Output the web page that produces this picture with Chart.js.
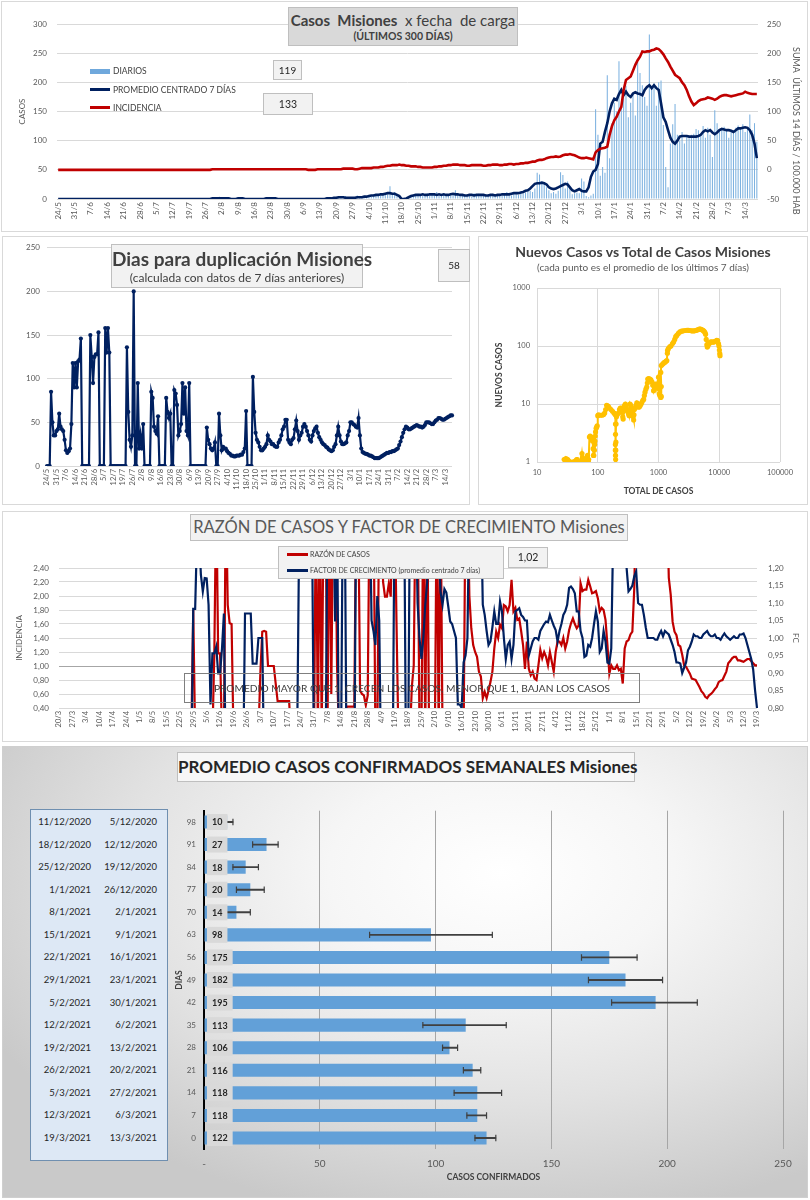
<!DOCTYPE html>
<html lang="es">
<head>
<meta charset="utf-8">
<title>Casos Misiones</title>
<script src="https://cdn.jsdelivr.net/npm/chart.js@4.4.1/dist/chart.umd.min.js"></script>
<style>
  html, body { margin: 0; padding: 0; background: #fff; }
  body { width: 810px; height: 1200px; position: relative; overflow: hidden; font-family: Lato, "Noto Sans", sans-serif; color: #404040; }
  .panel { position: absolute; box-sizing: border-box; border: 1px solid #d9d9d9; }
  canvas { position: absolute; }
  .caja { position: absolute; box-sizing: border-box; background: #f2f2f2; border: 1px solid #bfbfbf; text-align: center; color: #262626; }
  .ley { position: absolute; font-size: 8.5px; line-height: 12px; color: #404040; white-space: nowrap; }
  .raya { position: absolute; width: 21px; height: 3px; }
  .fila { position: absolute; font-size: 9.5px; line-height: 12px; color: #262626; text-align: right; white-space: nowrap; }
</style>
</head>
<body>

<div class="panel" style="left:1px;top:1px;width:807px;height:231px"></div>
<div class="panel" style="left:2px;top:236px;width:468px;height:269px"></div>
<div class="panel" style="left:478px;top:236px;width:330px;height:269px"></div>
<div class="panel" style="left:2px;top:511px;width:806px;height:231px"></div>
<div class="panel" style="left:2px;top:746px;width:806px;height:452px;border-color:#cfcfcf;
  background: radial-gradient(ellipse 72% 78% at 62% 28%, #ffffff 0%, #f6f6f6 30%, #e2e2e2 65%, #c9c9c9 100%);"></div>

<canvas id="g1" width="810" height="232" style="left:0;top:0"></canvas>
<canvas id="g2" width="468" height="269" style="left:2px;top:236px"></canvas>
<canvas id="g3" width="330" height="269" style="left:478px;top:236px"></canvas>
<canvas id="g4" width="806" height="231" style="left:2px;top:511px"></canvas>
<canvas id="g5" width="630" height="400" style="left:170px;top:790px"></canvas>

<!-- panel 1 -->
<div class="caja" style="left:288px;top:7px;width:230px;height:39px;background:#d9d9d9;color:#404040">
  <div style="font-size:15px;line-height:19px;margin-top:3px;white-space:nowrap"><b>Casos&nbsp; Misiones</b>&nbsp; x fecha&nbsp; de carga</div>
  <div style="font-size:10.5px;font-weight:bold;line-height:13px">(ÚLTIMOS 300 DÍAS)</div>
</div>
<div class="raya" style="left:90px;top:68.5px;height:5px;width:20px;background:#6fa8dc"></div>
<div class="ley" style="left:113px;top:65px">DIARIOS</div>
<div class="raya" style="left:90px;top:88px;width:20px;background:#002060"></div>
<div class="ley" style="left:113px;top:83.5px">PROMEDIO CENTRADO 7 DÍAS</div>
<div class="raya" style="left:90px;top:106px;width:20px;background:#c00000"></div>
<div class="ley" style="left:113px;top:101.5px">INCIDENCIA</div>
<div class="caja" style="left:273px;top:60px;width:29px;height:20px;font-size:10px;line-height:18px">119</div>
<div class="caja" style="left:263px;top:93px;width:50px;height:22px;font-size:10.5px;line-height:20px">133</div>
<div style="position:absolute;left:791px;top:47px;width:11px;writing-mode:vertical-rl;font-size:9px;line-height:11px;color:#595959;white-space:nowrap">SUMA&nbsp; ÚLTIMOS 14 DÍAS / 100.000 HAB</div>

<!-- panel 2 -->
<div class="caja" style="left:111px;top:244px;width:252px;height:44px;color:#404040">
  <div style="font-size:19px;font-weight:bold;line-height:22px;margin-top:3px;white-space:nowrap">Dias para duplicación Misiones</div>
  <div style="font-size:12px;line-height:15px;white-space:nowrap">(calculada con datos de 7 días anteriores)</div>
</div>
<div class="caja" style="left:438px;top:249px;width:32px;height:33px;font-size:10px;line-height:31px">58</div>

<!-- panel 3 -->
<div style="position:absolute;left:478px;width:330px;top:243px;text-align:center;font-size:14px;font-weight:bold;color:#404040;white-space:nowrap">Nuevos Casos vs Total de Casos Misiones</div>
<div style="position:absolute;left:478px;width:330px;top:261px;text-align:center;font-size:10px;color:#595959;white-space:nowrap">(cada punto es el promedio de los últimos 7 días)</div>

<!-- panel 4 -->
<div class="caja" style="left:190px;top:514px;width:438px;height:27px;font-size:16.5px;line-height:25px;color:#595959;white-space:nowrap">RAZÓN DE CASOS Y FACTOR DE CRECIMIENTO Misiones</div>
<div class="caja" style="left:278px;top:546px;width:226px;height:33px"></div>
<div class="raya" style="left:287px;top:553px;height:2.5px;background:#c00000"></div>
<div class="ley" style="left:310px;top:549px;font-size:7px;line-height:10px">RAZÓN DE CASOS</div>
<div class="raya" style="left:287px;top:569px;height:2.5px;background:#002060"></div>
<div class="ley" style="left:310px;top:565px;font-size:7px;line-height:10px">FACTOR DE CRECIMIENTO (promedio centrado 7 días)</div>
<div class="caja" style="left:508px;top:547px;width:40px;height:21px;font-size:10.5px;line-height:19px">1,02</div>
<div style="position:absolute;box-sizing:border-box;left:184px;top:673px;width:456px;height:30px;border:1px solid #7f7f7f;text-align:center;font-size:10.2px;line-height:28px;color:#404040;white-space:nowrap">PROMEDIO MAYOR QUE 1, CRECEN LOS CASOS, MENOR QUE 1, BAJAN LOS CASOS</div>

<!-- panel 5 -->
<div class="caja" style="left:177px;top:752px;width:458px;height:30px;background:#f7f7f7;font-size:17px;font-weight:bold;line-height:28px;white-space:nowrap">PROMEDIO CASOS CONFIRMADOS SEMANALES Misiones</div>
<div id="tabla" style="position:absolute;box-sizing:border-box;left:30px;top:809px;width:138px;height:352px;background:#dde8f5;border:1px solid #6f8fb0"></div>

<script>
// ---------- datos ----------
// casos por fecha de carga, desde 24/5/2020 (300 días)
const diarios = [
  0,0,0,0,0,0,0, 0,0,0,1,0,0,0, 0,0,0,0,0,1,0, 0,0,0,0,0,0,0,
  0,1,0,0,0,0,0, 0,0,0,0,1,0,0, 0,0,0,0,0,0,0, 0,0,1,0,0,0,0,
  0,0,0,0,0,0,0, 0,0,1,0,0,2,4, 2,0,0,1,0,0,0, 0,3,0,0,0,1,0,
  0,0,0,0,0,0,1, 3,0,0,0,1,0,0, 0,0,0,1,0,0,0, 0,0,0,0,0,0,0,
  0,0,0,0,0,1,0, 2,4,3,1,5,2,0, 1,0,6,3,2,5,3, 7,4,8,5,9,6,8,
  10,8,22,9,12,6,4, 0,2,1,3,4,6,8, 9,7,5,8,10,6,7, 8,12,6,5,9,7,8,
  6,9,15,7,5,8,6, 5,7,4,10,6,9,5, 8,6,5,7,9,6,6, 9,5,7,12,8,6,
  8,9,7,12,10,11,13, 14,12,18,45,42,30,28, 20,15,10,12,9,14,46, 41,18,30,22,8,10,11,
  10,35,30,5,3,6,9, 154,110,40,55,45,212,70, 130,165,150,236,160,190,194, 140,165,180,143,235,216,195,
  175,160,282,190,198,160,200, 203,127,55,20,95,128,163, 110,100,115,95,108,104,110, 112,120,118,110,125,105,122,
  110,72,152,130,118,120,124, 120,105,115,118,122,126,120, 128,115,120,145,118,130,98
];
const promedio7 = [
  0,0,0,0,0,0,0, 0,0,0,0,0,0,0, 0,0,0,0,0,0,0, 0,0,0,0,0,0,0,
  0,0,0,0,0,0,0, 0,0,0,0,0,0,0, 0,0,0,0,0,0,0, 0,0,0,0,0,0,0,
  0,0,0,0,0,0,0, 0,0,0,1,1,1,1, 1,1,1,1,0,0,0, 1,1,1,0,0,0,0,
  0,0,0,0,0,1,1, 1,1,1,0,0,0,0, 0,0,0,0,0,0,0, 0,0,0,0,0,0,0,
  0,0,0,1,1,1,2, 2,3,3,3,2,2,2, 2,2,3,3,3,4,4, 5,6,6,7,7,8,8,
  9,10,10,9,9,7,5, 0,0,1,3,5,6,7, 7,7,8,7,7,8,8, 8,7,8,7,8,7,7,
  8,9,8,8,7,7,6, 6,7,7,6,7,7,7, 7,6,6,7,7,6,7, 7,8,8,8,8,9,
  10,10,10,11,12,14,15, 18,22,26,27,27,28,27, 25,20,18,17,18,20,22, 24,26,25,20,15,13,15,
  17,14,13,13,20,38,47, 50,60,95,98,115,130,150, 164,172,170,180,187,178,184, 178,175,181,183,181,180,178,
  187,192,195,190,195,190,187, 164,140,132,118,105,98,95, 100,107,108,108,108,107,107, 107,107,108,110,115,118,116,
  118,114,111,114,118,120,119, 118,118,117,115,118,121,121, 122,123,122,118,110,95,70
];
// suma últimos 14 días / 100.000 hab (eje derecho)
const incidencia = [
  0,0,0,0,0,0,0, 0,0,0,0,0,0,0, 0,0,0,0,0,0,0, 0,0,0,0,0,0,0,
  0,0,0,0,0,0,0, 0,0,0,0,0,0,0, 0,0,0,0,0,0,0, 0,0,0,0,0,0,0,
  0,0,0,0,0,0,0, 0,0,0,1,1,1,1, 1,1,1,1,1,1,1, 1,1,1,1,1,1,1,
  1,1,1,1,1,1,1, 1,1,1,1,1,1,1, 1,1,1,1,1,1,1, 1,1,0,0,0,0,1,
  1,1,1,1,1,1,1, 1,1,1,2,2,2,2, 2,1,1,2,3,3,3, 3,3,4,4,4,5,5,
  6,7,7,8,8,8,9, 8,8,7,7,6,6,6, 5,5,4,4,4,4,4, 5,5,6,6,7,7,8,
  8,9,9,9,8,8,8, 7,7,8,8,8,8,8, 7,7,8,8,9,9,9, 8,8,9,9,10,10,
  9,10,10,11,11,12,12, 13,14,14,16,17,17,18, 20,21,22,22,23,22,23, 25,26,26,27,26,25,23,
  21,20,20,21,20,19,18, 30,34,36,37,38,40,60, 75,85,91,100,108,137,154, 157,160,170,180,188,194,203,
  202,203,203,205,206,208,207, 203,198,191,185,177,170,163, 160,157,150,145,137,126,117, 111,114,118,120,121,122,124,
  123,122,120,122,125,127,128, 128,127,126,127,128,129,130, 131,134,132,131,130,130,130
];

// días para duplicación (mismas fechas)
const duplicacion = [
  0,0,0,85,50,35,35,40,42,60,  45,42,40,30,18,15,17,20,48,118,
  90,118,90,120,122,146,0,0,0,0,  0,0,150,125,95,125,128,128,153,0,
  0,0,0,158,130,158,130,0,0,0,  0,0,0,0,0,0,0,0,0,136,
  62,30,22,35,200,0,0,95,20,35,  20,48,0,0,0,0,0,85,78,45,
  40,37,57,0,0,0,0,0,78,62,  55,60,0,0,87,83,70,35,40,48,
  95,60,90,40,35,95,0,0,0,0,  0,0,0,0,0,0,0,0,44,30,
  25,20,18,20,27,0,0,60,35,18,  22,20,20,17,15,14,12,12,11,11,
  12,12,12,13,13,16,20,63,0,0,  0,0,102,62,38,30,27,22,18,18,
  20,22,25,35,30,28,25,25,23,22,  22,27,30,35,42,45,53,53,30,27,
  25,30,32,42,52,40,30,35,38,45,  48,45,40,35,30,28,35,40,43,45,
  38,33,30,27,25,24,22,21,19,18,  17,18,22,25,35,45,35,28,25,25,
  26,27,35,40,50,50,48,47,45,44,  55,35,20,16,15,14,14,13,12,12,
  11,10,9,9,9,9,10,11,12,13,  14,15,15,16,16,17,17,18,19,20,
  24,28,33,38,42,45,44,42,42,43,  44,45,46,47,46,45,45,44,45,47,
  50,50,50,49,48,48,50,52,53,55,  55,54,53,53,54,55,56,57,58,58
];

// nuevos casos (prom. 7 días) vs total de casos
const totalCasos = [
  28,29,30,31,32,33,34,35,36,38, 40,41,43,45,46,47,49,51,53,55,
  56,57,58,60,62,63,65,67,68,69, 70,71,73,75,78,80,82,84,85,86,
  88,89,90,91,92,94,96,98,100,103, 110,118,125,130,135,140,145,150,155,165,
  175,185,192,195,196,196,195,195,196,197, 198,199,200,203,210,220,228,235,242,250,
  258,262,266,270,278,285,292,300,310,318, 325,330,335,340,348,355,365,375,383,390,
  395,400,410,425,440,455,470,485,500,515, 530,550,570,585,600,620,640,655,665,690,
  720,750,780,805,830,860,890,915,940,970, 1000,1020,1040,1030,1050,1090,1110,1110,1090,1110,
  1150,1200,1250,1290,1340,1370,1400,1410,1450,1530, 1600,1700,1770,1850,1920,2000,2120,2250,2400,2550,
  2740,2950,3100,3300,3500,3700,3900,4100,4300,4500, 4700,4850,5000,5200,5400,5600,5800,5950,6100,6250,
  6350,6500,6700,6900,7100,7400,7700,8000,8300,8600, 8900,9100,9400,9700,9900,10050,10200,10300
];
const nuevosCasos = [
  1.1,1.1,1.15,1.1,1.1,1.05,1,1,0.95,1, 1,1,1.05,1.1,1.1,1,1,1,1.05,1.4,
  1.2,1,1,1,1,1,1.1,1.2,1.3,1, 1,1.1,2.7,2.8,2.7,2.6,2.3,1.7,1.3,1.3,
  1.6,2,2.3,2.8,3.3,3.8,4,4.2,6.3,6.5, 6.4,6.4,6.6,7,8,9.5,9.3,9,8.5,8,
  7.5,7,6.8,6.5,4.5,3,2,1.6,1.3,1.1, 1.6,2.2,4.5,6,6.6,7,8,8.5,7.5,7.2,
  6,5.5,7.5,9,9.5,10,9,8,7.8,7, 6.5,6.3,8,10,9.5,8.5,8,7,6,5.3,
  6.5,8,8.5,9.5,10.5,9.5,8.8,9,9.4,10, 10.6,11.5,12,14,16,18,19.6,23,27,27.5,
  27,26,24,21,17,19,22,21,19.6,22, 29,24,18,15,14,13,13.5,20,35,46,
  48,50,52,53,55,56,75,84,90,97, 100,110,117,130,145,152,165,175,180,183,
  185,187,186,185,183,182,183,185,188,192, 195,195,194,190,187,180,172,160,130,105,
  96,100,108,112,117,118,117,117,118,120, 122,125,124,110,100,85,74,68
];

// razón de casos (eje izq.) y factor de crecimiento (eje der.), desde 20/3/2020 (365 días)
const razonCasos = [
  null,null,null,null,null,null,null,null,null,null, null,null,null,null,null,null,null,null,null,null,
  null,null,null,null,null,null,null,null,null,null, null,null,null,null,null,null,null,null,null,null,
  null,null,null,null,null,null,null,null,null,null, null,null,null,null,null,null,null,null,null,null,
  null,null,null,null,null,null,null,null,null,0,
  1.8,0,0,0,0,0,0,0,0,0,  0,1.18,3.5,1.18,1.18,0,0,3.5,1.87,1.61,
  1.6,0,0,0,0,0,0,0,0,0,  0,0,0,0,0,0.9,1.49,1.5,1.49,1.0,
  1.0,1.0,1.0,0.75,0.5,0.5,0.5,0.5,0.5,0.5,  0.5,0,0,0,0,0,0,0,0,0,
  0,0,0,0,3.5,0,3.5,0,3.5,3.5,  0,3.5,0.6,3.5,3.5,1.0,0,0,0,0,
  0.42,0.42,0.42,0.42,0.42,3.5,3.5,0.65,0.6,0.58,  0.44,0.58,3.5,3.5,3.5,0,0,3.5,3.5,2.2,
  1.99,1.99,2.18,1.99,3.5,3.5,1.63,0,0,0,  0,0,0,0,0.7,1.01,3.5,3.5,0,0,
  3.5,0,3.5,0,0,0,0,3.5,0,3.5,  0,0,0,0,0,0,0,0,0,0,
  0,0,3.5,3.5,2.0,1.54,1.3,1.2,1.13,0.92,  0.85,0.54,0.63,0.54,0.65,0.77,0.92,1.25,1.49,1.40,
  1.59,1.54,1.87,1.85,1.78,1.87,2.23,1.78,1.83,1.66,  1.68,1.50,1.30,0.96,1.35,0.96,0.87,0.92,0.82,0.80,
  1.01,1.23,1.11,1.20,1.13,1.01,1.20,1.06,0.92,1.20,  1.35,1.35,1.30,1.40,1.25,1.35,1.51,1.61,1.68,1.60,
  1.54,1.58,2.18,2.07,2.09,2.09,2.23,2.14,2.04,2.05,  2.07,1.97,1.78,1.83,1.80,1.66,1.30,0.89,1.01,0.96,
  0.96,1.01,0.94,0.96,0.75,1.25,1.35,1.37,1.45,1.49,  2.11,3.5,3.5,3.5,3.5,3.5,3.5,3.5,3.5,3.5,
  3.5,3.5,3.5,3.5,3.5,3.5,3.5,3.5,2.26,2.02,  1.63,1.49,1.44,1.30,1.28,1.16,1.01,0.99,0.94,0.89,
  0.82,0.81,0.80,0.75,0.70,0.64,0.61,0.56,0.54,0.58,  0.60,0.63,0.67,0.70,0.77,0.79,0.80,0.86,0.92,1.04,
  1.07,1.11,1.13,1.13,1.08,1.08,1.07,1.06,1.08,1.10,  1.10,1.07,1.04,1.01,1.01
];
const factorCrecimiento = [
  null,null,null,null,null,null,null,null,null,null, null,null,null,null,null,null,null,null,null,null,
  null,null,null,null,null,null,null,null,null,null, null,null,null,null,null,null,null,null,null,null,
  null,null,null,null,null,null,null,null,null,null, null,null,null,null,null,null,null,null,null,null,
  null,null,null,null,null,null,null,null,null,0.6,
  1.083,1.083,1.3,1.3,1.18,1.133,1.171,1.17,1.095,0.81,  0.956,0.956,0.975,0.899,0.899,0.97,1.07,0.6,0.6,0.6,
  0.6,0.6,0.6,0.6,0.6,0.6,0.6,1.07,1.07,1.07,  1.07,0.927,0.927,0.927,1.0,1.0,1.0,0.6,0.6,0.6,
  0.6,0.6,0.6,0.6,0.6,0.6,0.6,0.6,0.6,0.6,  0.6,0.6,0.6,0.6,0.6,1.16,1.4,1.4,1.4,1.4,
  1.4,1.4,1.3,0.6,0.6,0.6,0.6,0.6,0.6,0.6,  1.4,1.4,1.4,1.4,1.047,1.4,0.6,0.6,1.4,1.4,
  0.6,0.6,0.6,0.6,0.6,1.4,1.4,1.4,1.4,1.4,  1.4,1.4,1.4,1.05,1.02,0.98,1.12,1.05,0.6,0.6,
  0.6,0.6,0.6,0.6,0.6,1.4,1.4,1.4,1.4,1.4,  1.4,0.6,0.6,1.4,1.4,1.4,1.4,1.1,1.0,0.94,
  1.0,1.095,1.16,1.4,1.4,1.4,1.4,1.4,1.25,1.13,  1.095,1.14,1.13,1.09,1.047,1.04,1.02,1.0,0.81,0.81,
  0.80,0.93,0.95,1.0,1.4,1.4,1.4,1.4,1.4,1.4,  1.4,1.095,1.066,1.02,0.98,0.99,1.03,1.076,1.04,1.04,
  1.104,1.076,1.0,0.94,0.98,0.99,0.94,0.98,1.076,1.08,  1.085,1.066,1.06,1.05,1.05,0.95,0.97,0.99,1.0,1.0,
  0.995,1.02,1.03,1.04,1.047,1.045,1.066,1.05,1.035,1.023,  0.99,1.02,1.04,1.066,1.076,1.095,1.143,1.147,1.14,1.128,
  1.076,1.076,1.02,1.0,0.946,0.95,0.98,0.975,1.0,1.04,  1.076,1.047,0.96,0.97,1.02,0.99,0.93,0.927,0.97,1.3,
  1.3,1.3,1.3,1.3,1.3,1.3,1.2,1.133,1.14,1.15,  1.176,1.19,1.1,1.095,1.095,1.066,1.03,1.0,1.0,1.0,
  1.0,0.995,0.995,1.01,1.02,1.005,1.02,1.015,1.01,0.995,  0.98,0.96,0.93,0.93,0.927,0.90,0.915,0.93,0.965,0.975,
  0.99,1.01,1.005,1.005,1.0,1.0,1.01,1.015,1.02,1.01,  1.005,1.005,1.01,1.0,1.0,0.995,1.005,1.013,1.005,1.0,
  0.995,1.0,1.005,1.0,1.0,1.01,1.01,1.013,1.0,0.98,  0.96,0.94,0.91,0.85,0.80
];

// promedio semanal de casos confirmados
const diasLabels = ['98','91','84','77','70','63','56','49','42','35','28','21','14','7','0'];
const promedioSemanal = [10,27,18,20,14,98,175,182,195,113,106,116,118,118,122];
const errorMin = [7.5,21,12.5,14,8,71.5,163,166,176,94.5,103,112,108,113.5,117];
const errorMax = [12.5,32,23.5,26,20,124.5,187,198,213,130.5,109.5,119.5,128.5,122,126];
const semanaFin = ['11/12/2020','18/12/2020','25/12/2020','1/1/2021','8/1/2021','15/1/2021','22/1/2021','29/1/2021',
  '5/2/2021','12/2/2021','19/2/2021','26/2/2021','5/3/2021','12/3/2021','19/3/2021'];
const semanaInicio = ['5/12/2020','12/12/2020','19/12/2020','26/12/2020','2/1/2021','9/1/2021','16/1/2021','23/1/2021',
  '30/1/2021','6/2/2021','13/2/2021','20/2/2021','27/2/2021','6/3/2021','13/3/2021'];

// fechas d/m consecutivas
function fechasDiarias(dia, mes, anio, n) {
  const out = [];
  const d = new Date(anio, mes - 1, dia);
  for (let k = 0; k < n; k++) {
    out.push(d.getDate() + '/' + (d.getMonth() + 1));
    d.setDate(d.getDate() + 1);
  }
  return out;
}
const fechasCarga = fechasDiarias(24, 5, 2020, 300);
const fechasRazon = fechasDiarias(20, 3, 2020, 365);

// ---------- graficos ----------
Chart.defaults.font.family = 'Lato, "Noto Sans", sans-serif';
Chart.defaults.color = '#595959';
Chart.defaults.plugins.legend.display = false;
Chart.defaults.plugins.tooltip.enabled = false;

const marcaSemanal = function (value, index) {
  return index % 7 === 0 ? this.getLabelForValue(value) : '';
};
const coma = v => v.toFixed(2).replace('.', ',');
const ejeX = (alto, tam) => ({
  grid: { display: false, drawTicks: false }, border: { display: false },
  ticks: { autoSkip: false, minRotation: 90, maxRotation: 90, padding: 3, font: { size: tam }, callback: marcaSemanal },
  afterFit: s => { s.height = alto; }
});

new Chart(document.getElementById('g1'), {
  type: 'bar',
  data: {
    labels: fechasCarga,
    datasets: [
      { type: 'line', label: 'INCIDENCIA', data: incidencia, yAxisID: 'y2', borderColor: '#c00000', borderWidth: 2.6, pointRadius: 0, order: 1 },
      { type: 'line', label: 'PROMEDIO CENTRADO 7 DÍAS', data: promedio7, yAxisID: 'y', borderColor: '#002060', borderWidth: 2.6, pointRadius: 0, order: 2 },
      { label: 'DIARIOS', data: diarios, yAxisID: 'y', backgroundColor: '#7db2e0', barPercentage: 0.45, categoryPercentage: 1, order: 3 }
    ]
  },
  options: {
    responsive: false, animation: false,
    layout: { padding: { left: 14, right: 2, top: 24, bottom: 0 } },
    scales: {
      x: ejeX(33, 8),
      y: { min: 0, max: 300, ticks: { stepSize: 50, padding: 10, font: { size: 8 } },
           grid: { color: '#d9d9d9', drawTicks: false }, border: { display: false },
           title: { display: true, text: 'CASOS', font: { size: 8 } },
           afterFit: s => { s.width = 43; } },
      y2: { position: 'right', min: -50, max: 250, ticks: { stepSize: 50, padding: 9, font: { size: 8 } },
            grid: { display: false, drawTicks: false }, border: { display: false },
            afterFit: s => { s.width = 50; } }
    }
  }
});

new Chart(document.getElementById('g2'), {
  type: 'line',
  data: {
    labels: fechasCarga,
    datasets: [{ data: duplicacion, borderColor: '#002060', backgroundColor: '#002060', borderWidth: 2.2,
                 pointRadius: 2.1, pointBorderWidth: 0, tension: 0 }]
  },
  options: {
    responsive: false, animation: false,
    layout: { padding: { left: 0, right: 18, top: 11, bottom: 0 } },
    scales: {
      x: ejeX(39, 7.5),
      y: { min: 0, max: 250, ticks: { stepSize: 50, padding: 7, font: { size: 8 } },
           grid: { color: '#d9d9d9', drawTicks: false }, border: { display: false },
           afterFit: s => { s.width = 45; } }
    }
  }
});

new Chart(document.getElementById('g3'), {
  type: 'scatter',
  data: {
    datasets: [{ data: totalCasos.map((t, i) => ({ x: t, y: nuevosCasos[i] })), showLine: true,
                 borderColor: '#ffc000', backgroundColor: '#ffc000', borderWidth: 2, pointRadius: 2.6, pointBorderWidth: 0 }]
  },
  options: {
    responsive: false, animation: false,
    layout: { padding: { left: 12, right: 28, top: 52, bottom: 5 } },
    scales: {
      x: { type: 'logarithmic', min: 10, max: 100000,
           afterBuildTicks: s => { s.ticks = [10, 100, 1000, 10000, 100000].map(v => ({ value: v })); },
           ticks: { padding: 6, font: { size: 7.5 }, callback: v => String(v) },
           grid: { color: '#d9d9d9', drawTicks: false }, border: { display: false },
           title: { display: true, text: 'TOTAL DE CASOS', color: '#404040', font: { size: 8.5, weight: 'bold' } },
           afterFit: s => { s.height = 38; } },
      y: { type: 'logarithmic', min: 1, max: 1000,
           afterBuildTicks: s => { s.ticks = [1, 10, 100, 1000].map(v => ({ value: v })); },
           ticks: { padding: 7, font: { size: 7.5 }, callback: v => String(v) },
           grid: { color: '#d9d9d9', drawTicks: false }, border: { display: false },
           title: { display: true, text: 'NUEVOS CASOS', color: '#404040', font: { size: 8.5, weight: 'bold' } },
           afterFit: s => { s.width = 47; } }
    }
  }
});

new Chart(document.getElementById('g4'), {
  type: 'line',
  data: {
    labels: fechasRazon,
    datasets: [
      { label: 'RAZÓN DE CASOS', data: razonCasos, yAxisID: 'y', borderColor: '#c00000', borderWidth: 2.2, pointRadius: 0, tension: 0, order: 2 },
      { label: 'FACTOR DE CRECIMIENTO', data: factorCrecimiento, yAxisID: 'y2', borderColor: '#002060', borderWidth: 2.2, pointRadius: 0, tension: 0, order: 1 }
    ]
  },
  options: {
    responsive: false, animation: false,
    layout: { padding: { left: 9, right: 4, top: 57, bottom: 0 } },
    scales: {
      x: ejeX(34, 7.5),
      y: { min: 0.4, max: 2.4, ticks: { stepSize: 0.2, padding: 10, font: { size: 8 }, callback: coma },
           grid: { color: c => Math.abs(c.tick.value - 1) < 1e-6 ? '#a6a6a6' : '#d9d9d9', drawTicks: false },
           border: { display: false },
           title: { display: true, text: 'INCIDENCIA', font: { size: 8 } },
           afterFit: s => { s.width = 48; } },
      y2: { position: 'right', min: 0.8, max: 1.2, ticks: { stepSize: 0.05, padding: 11, font: { size: 8 }, callback: coma },
            grid: { display: false, drawTicks: false }, border: { display: false },
            title: { display: true, text: 'FC', font: { size: 8 } },
            afterFit: s => { s.width = 47; } }
    }
  }
});

// etiqueta gris con el valor al inicio de cada barra
const etiquetasBarras = {
  id: 'etiquetasBarras',
  afterDatasetsDraw(chart) {
    const ctx = chart.ctx;
    const meta = chart.getDatasetMeta(2);
    const x0 = chart.scales.x.getPixelForValue(0);
    ctx.save();
    ctx.font = 'bold 9px Lato, "Noto Sans", sans-serif';
    ctx.textBaseline = 'middle';
    ctx.textAlign = 'center';
    meta.data.forEach((barra, i) => {
      const txt = String(promedioSemanal[i]);
      const w = ctx.measureText(txt).width + 10;
      ctx.fillStyle = '#d9d9d9';
      ctx.fillRect(x0 + 3, barra.y - 8, w, 16);
      ctx.fillStyle = '#262626';
      ctx.fillText(txt, x0 + 3 + w / 2, barra.y + 0.5);
    });
    ctx.restore();
  }
};

const capas = errorMin.map((v, i) => ({ x: v, y: diasLabels[i] }))
  .concat(errorMax.map((v, i) => ({ x: v, y: diasLabels[i] })));

const g5 = new Chart(document.getElementById('g5'), {
  type: 'bar',
  data: {
    labels: diasLabels,
    datasets: [
      { type: 'scatter', data: capas, pointStyle: 'line', rotation: 90, pointRadius: 3.2,
        borderColor: '#404040', borderWidth: 1.2, order: 0 },
      { data: errorMin.map((v, i) => [v, errorMax[i]]), backgroundColor: '#404040', barThickness: 1.2, grouped: false, order: 1 },
      { data: promedioSemanal, backgroundColor: '#62a0d8', barPercentage: 0.58, categoryPercentage: 1, grouped: false, order: 2 }
    ]
  },
  options: {
    indexAxis: 'y',
    responsive: false, animation: false,
    layout: { padding: { left: 0, right: 17, top: 20.7, bottom: 4 } },
    scales: {
      x: { type: 'linear', min: 0, max: 250,
           ticks: { stepSize: 50, padding: 8, font: { size: 10 }, callback: v => v === 0 ? '-' : v },
           grid: { color: c => c.tick.value === 0 ? 'rgba(0,0,0,0)' : '#a6a6a6', drawTicks: false },
           border: { display: false },
           title: { display: true, text: 'CASOS CONFIRMADOS', color: '#404040', font: { size: 8.5, weight: 'bold' } },
           afterFit: s => { s.height = 36.7; } },
      y: { type: 'category',
           ticks: { padding: 8, font: { size: 8 } },
           grid: { display: false, drawTicks: false }, border: { color: '#000000', width: 2 },
           title: { display: true, text: 'DIAS', color: '#404040', font: { size: 8.5, weight: 'bold' } },
           afterFit: s => { s.width = 34; } }
    }
  },
  plugins: [etiquetasBarras]
});

// tabla de fechas alineada con las barras
const escalaY = g5.scales.y;
semanaFin.forEach((f, i) => {
  const y = 790 + escalaY.getPixelForValue(i) - 6;
  const a = document.createElement('div');
  a.className = 'fila';
  a.style.cssText = 'left:30px;width:61px;top:' + y + 'px';
  a.textContent = f;
  document.body.appendChild(a);
  const b = document.createElement('div');
  b.className = 'fila';
  b.style.cssText = 'left:95px;width:62px;top:' + y + 'px';
  b.textContent = semanaInicio[i];
  document.body.appendChild(b);
});
</script>
</body>
</html>
